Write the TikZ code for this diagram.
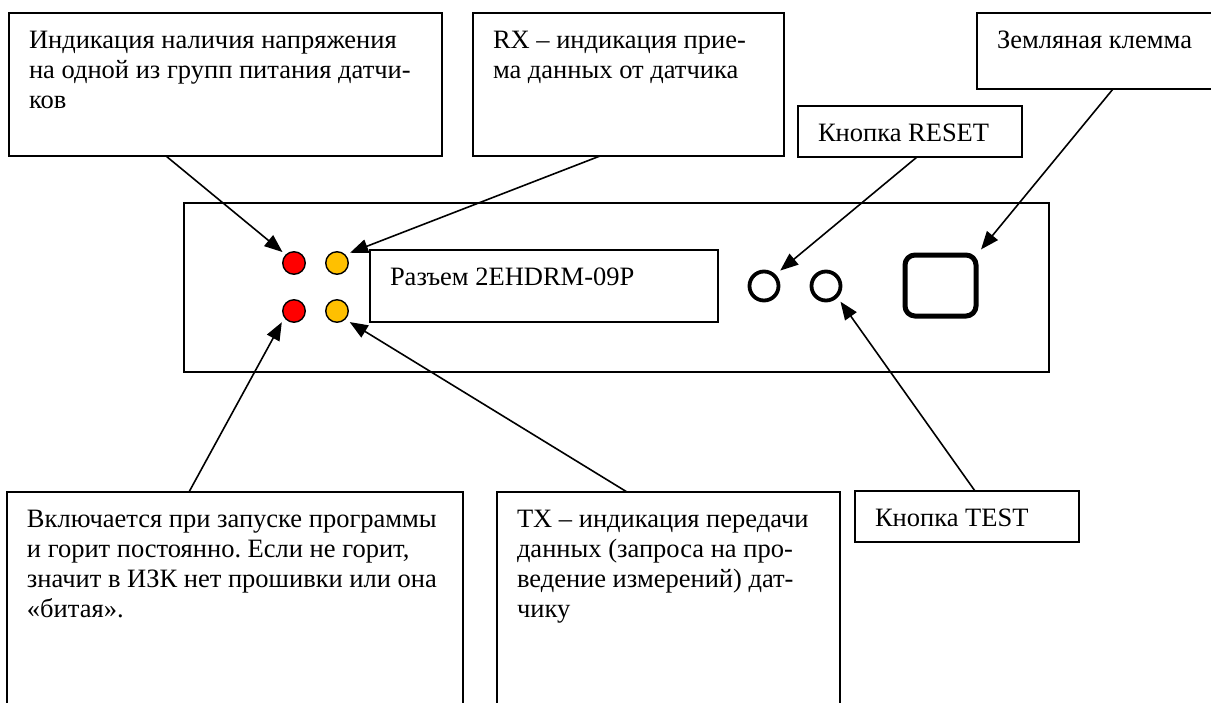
\documentclass[tikz,border=0pt]{standalone}
\usepackage{fontspec}
\setmainfont{Liberation Serif}
\usetikzlibrary{arrows.meta,calc}
\newcommand\boxtext[3]{\parbox[c][#1][t]{#2}{\rule{0pt}{35pt}#3}}
\begin{document}
\begin{tikzpicture}[x=1pt,y=-1pt,
  box/.style={draw, line width=1.5pt, anchor=north west, inner xsep=20pt, inner ysep=0pt, outer sep=0pt, font=\fontsize{26.5}{30}\selectfont},
  led/.style={circle, draw, line width=1.4pt, minimum size=22.5pt, inner sep=0pt},
  btn/.style={circle, draw, line width=3.8pt, minimum size=29pt, inner sep=0pt},
  arr/.style={line width=1.6pt, -{Triangle[length=18pt,width=14pt]}},
]
\definecolor{ledred}{HTML}{FF0000}
\definecolor{ledorange}{HTML}{FFC000}
\useasboundingbox (0,0) rectangle (1211,702);
\clip (0,0) rectangle (1211,702);
\fill[white] (0,0) rectangle (1211,702);

% panel
\node[draw, line width=1.5pt, minimum width=865pt, minimum height=169pt, anchor=north west, inner sep=0pt, outer sep=0pt] (panel) at (184,203) {};
\node[box] (conn) at (370,250) {\boxtext{72pt}{308pt}{\mbox{Разъем 2EHDRM-09P}}};

% LEDs
\node[led, fill=ledred] (r1) at (294,263) {};
\node[led, fill=ledorange] (o1) at (337,263) {};
\node[led, fill=ledred] (r2) at (294,311) {};
\node[led, fill=ledorange] (o2) at (337,311) {};

% buttons and ground terminal
\node[btn] (bR) at (764,286) {};
\node[btn] (bT) at (826,286) {};
\node[draw, rounded corners=10pt, line width=5pt, minimum width=71pt, minimum height=61pt, inner sep=0pt] (gnd) at (940.5,285.5) {};

% label boxes
\node[box] (b1) at (9,13) {\boxtext{143pt}{393pt}{\mbox{Индикация наличия напряжения}\\\mbox{на одной из групп питания датчи-}\\\mbox{ков}}};
\node[box] (bRX) at (473,13) {\boxtext{143pt}{271pt}{\mbox{RX – индикация прие-}\\\mbox{ма данных от датчика}}};
\node[box] (bGnd) at (977,13) {\boxtext{76pt}{230pt}{\mbox{Земляная клемма}}};
\node[box] (bRes) at (798,106) {\boxtext{51pt}{184pt}{\mbox{Кнопка RESET}}};
\node[box] (bOn) at (7,492) {\boxtext{240pt}{416pt}{\mbox{Включается при запуске программы}\\\mbox{и горит постоянно.\ Если не горит,}\\\mbox{значит в ИЗК нет прошивки или она}\\\mbox{«битая».}}};
\node[box] (bTX) at (497,492) {\boxtext{240pt}{303pt}{\mbox{TX – индикация передачи}\\\mbox{данных (запроса на про-}\\\mbox{ведение измерений) дат-}\\\mbox{чику}}};
\node[box] (bTest) at (855,491) {\boxtext{51pt}{184pt}{\mbox{Кнопка TEST}}};

% arrows
\draw[arr, shorten >=4pt] ($(b1.south west)+(157,0)$) -- (r1.135);
\draw[arr, shorten >=5pt] ($(bRX.south west)+(127,0)$) -- (o1.45);
\draw[arr, shorten >=6pt] ($(bRes.south west)+(119,0)$) -- (bR.45);
\draw[arr, shorten >=4pt] ($(bGnd.south west)+(136,0)$) -- (gnd.north east);
\draw[arr, shorten >=5pt] ($(bOn.north west)+(182,0)$) -- (r2.215);
\draw[arr, shorten >=5pt] ($(bTX.north west)+(130,0)$) -- (o2.315);
\draw[arr, shorten >=5pt] ($(bTest.north west)+(120,0)$) -- (bT.315);
\end{tikzpicture}
\end{document}
